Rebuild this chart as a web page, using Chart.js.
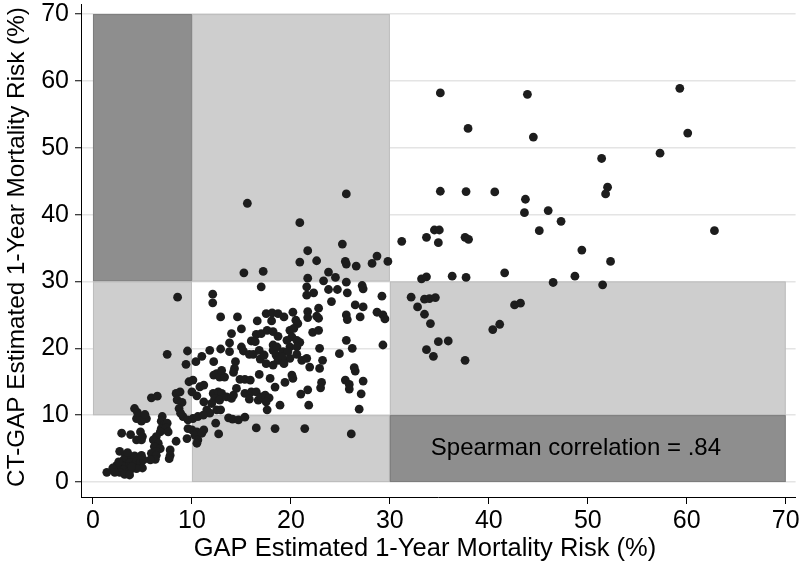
<!DOCTYPE html>
<html lang="en">
<head>
<meta charset="UTF-8">
<title>GAP vs CT-GAP Mortality Risk</title>
<script src="https://cdn.jsdelivr.net/npm/chart.js"></script>
<style>
  html, body { margin: 0; padding: 0; background: #fff; }
  .chart-box { width: 800px; height: 568px; }
</style>
</head>
<body>
<div class="chart-box"><canvas id="riskChart" width="800" height="568"></canvas></div>
<script>
// tick labels on both axes (%)
const tickValues = [0, 10, 20, 30, 40, 50, 60, 70];

const xTitle = 'GAP Estimated 1-Year Mortality Risk (%)';
const yTitle = 'CT-GAP Estimated 1-Year Mortality Risk (%)';

// [GAP risk, CT-GAP risk] per patient
const patients = [
  // GAP < 10, CT-GAP < 10
  [9.1,9.8],[4.7,9.8],[5.4,9.5],[4.9,9.1],[4.4,9.5],[7.0,9.8],[6.9,9.1],[7.2,8.6],[7.5,8.8],[6.9,8.0],
  [7.4,8.1],[6.8,7.5],[7.6,7.5],[6.4,6.8],[6.1,6.3],[6.6,5.8],[6.2,5.3],[6.8,5.0],[6.4,4.6],[5.9,4.3],
  [6.4,4.0],[6.3,3.4],[5.8,3.3],[7.8,4.8],[7.8,4.0],[7.7,3.5],[8.4,6.1],[2.9,7.3],[3.8,7.1],[4.4,6.3],
  [4.8,7.5],[4.9,6.3],[2.7,4.6],[3.3,4.0],[3.7,3.6],[4.2,3.9],[3.1,3.3],[3.7,2.9],[4.4,3.1],[4.1,2.5],
  [4.8,2.9],[5.0,2.1],[3.4,2.3],[2.9,2.5],[2.4,2.5],[2.0,2.1],[3.1,1.8],[3.7,1.6],[2.7,1.45],[3.2,1.15],
  [2.2,1.45],[1.4,1.45],[3.7,1.05],[4.4,2.0],[3.9,2.3],[5.1,3.3],[4.9,4.0],[9.6,9.3],[9.6,8.0],[9.5,6.5],
  [5.0,6.8],[3.5,4.4],[2.6,3.0],
  // GAP < 10, CT-GAP 10-30
  [8.55,27.65],[7.5,19.1],[9.55,19.6],[9.4,17.6],[9.7,15.0],[5.9,12.6],[6.5,12.85],[8.4,13.25],[8.8,13.5],
  [8.5,12.3],[9.0,11.9],[8.7,11.0],[8.85,10.3],[4.2,11.0],[4.5,10.4],[5.25,10.1],
  // GAP 10-30, CT-GAP 10-30
  [21.6,29.2],[22.3,28.3],[21.6,27.95],[23.8,28.8],[24.7,28.8],[25.7,28.3],[27.2,29.4],[27.3,28.9],[24.1,27.0],
  [26.5,26.5],[27.3,26.2],[29.2,27.8],[20.2,25.4],[21.7,25.5],[22.8,26.0],[22.6,24.8],[21.7,24.6],[20.5,24.2],
  [20.7,23.7],[22.8,24.5],[25.6,25.0],[25.7,24.3],[27.0,24.7],[28.7,25.4],[29.3,25.0],[29.5,24.4],[19.9,22.7],
  [20.3,23.0],[20.1,21.7],[20.6,21.2],[20.9,20.9],[22.2,22.4],[22.8,22.7],[19.9,20.2],[20.6,20.2],[20.6,19.1],
  [21.1,18.2],[21.6,18.5],[21.9,17.2],[19.9,18.5],[22.9,20.0],[23.2,18.2],[22.9,17.0],[24.9,19.2],[25.6,21.2],
  [26.2,20.0],[26.4,17.1],[26.5,16.6],[29.3,20.5],[20.1,16.0],[20.2,15.5],[23.1,14.9],[23.0,14.1],[25.5,15.25],
  [25.9,14.6],[25.9,13.9],[27.3,15.1],[27.1,13.2],[26.9,10.9],[21.7,13.8],[21.0,13.15],[21.8,11.5],
  [17.0,29.2],[12.1,28.1],[12.1,26.8],[12.9,24.7],[14.6,24.7],[17.5,25.2],[18.1,25.3],[18.7,25.2],[19.3,24.7],
  [18.05,24.1],[16.6,24.1],[14.0,22.2],[15.0,22.9],[16.5,22.1],[17.0,22.2],[17.6,22.7],[18.2,22.5],[18.7,21.8],
  [19.6,21.2],[16.0,21.1],[16.4,21.0],[13.8,20.8],[12.9,19.9],[13.8,19.5],[15.0,20.2],[15.2,19.6],[15.8,19.1],
  [16.2,19.1],[16.8,19.7],[16.9,18.4],[18.2,20.5],[18.2,19.7],[18.6,20.2],[18.5,19.0],[18.9,18.8],[19.2,19.5],
  [18.7,18.2],[19.2,18.0],[19.7,19.5],[11.8,19.7],[11.0,18.8],[10.4,18.0],[12.2,18.0],[14.4,18.0],[14.3,17.0],
  [14.2,16.4],[17.5,17.7],[18.2,17.5],[12.2,16.0],[12.5,16.2],[12.8,15.7],[13.3,15.7],[13.0,16.7],[14.85,15.35],
  [15.35,15.35],[15.9,15.25],[16.8,16.1],[17.9,15.5],[10.1,15.25],[19.4,14.9],[18.4,14.2],[19.1,18.7],
  [10.8,14.25],[11.2,14.5],[12.15,13.25],[12.66,13.5],[13.0,13.25],[12.3,12.5],[12.8,12.25],[12.0,11.75],
  [12.5,10.8],[12.9,10.8],[13.5,12.75],[14.0,12.5],[14.2,13.0],[14.5,14.0],[15.35,13.25],[16.0,13.5],
  [16.5,13.5],[16.7,12.25],[17.0,12.75],[17.4,13.0],[17.8,12.6],[17.5,12.0],[18.9,11.5],[17.6,10.8],
  [10.5,12.9],[10.0,13.5],[11.2,12.0],[11.5,10.8],[11.8,10.3],[15.8,12.4],[19.3,17.7],[17.3,19.0],
  // GAP 10-30, CT-GAP < 10
  [10.1,9.5],[10.6,9.8],[11.15,10.0],[10.0,7.8],[10.5,7.5],[11.2,7.8],[10.3,7.0],[10.6,6.3],[10.5,5.8],
  [11.0,7.3],[12.4,8.8],[12.7,7.2],[13.7,9.6],[14.1,9.4],[14.7,9.3],[15.35,9.7],[16.5,8.1],[18.4,8.0],
  [21.4,8.0],[26.1,7.2],
  // GAP 10-30, CT-GAP > 30
  [15.6,41.7],[25.6,43.1],[20.9,38.8],[25.2,35.6],[21.7,34.6],[20.9,32.9],[22.6,33.1],[25.5,33.0],[25.6,32.6],
  [26.6,32.3],[28.7,33.8],[28.2,32.7],[29.8,33.0],[15.25,31.3],[17.2,31.5],[23.8,31.4],[21.7,30.5],[24.5,30.6],
  [23.3,30.1],[25.6,29.9],
  // GAP > 30
  [35.1,58.2],[43.9,58.0],[59.3,58.9],[37.9,52.9],[44.5,51.6],[60.1,52.2],[51.4,48.4],[57.3,49.2],[35.1,43.5],
  [37.7,43.45],[40.6,43.4],[43.7,42.3],[43.6,40.3],[46.0,40.6],[47.3,39.0],[52.0,44.1],[51.8,43.1],[45.1,37.6],
  [62.8,37.6],[34.5,37.7],[35.0,37.7],[33.7,36.6],[34.9,35.8],[37.6,36.6],[37.95,36.3],[31.2,36.0],[49.4,34.7],
  [52.3,33.0],[41.6,31.3],[33.2,30.4],[33.7,30.7],[36.3,30.8],[37.7,30.6],[46.5,29.85],[48.7,30.8],[51.5,29.5],
  [32.15,27.65],[33.5,27.35],[34.0,27.45],[34.6,27.6],[32.8,26.2],[33.5,25.1],[34.1,23.7],[42.6,26.5],
  [43.2,26.75],[40.4,22.8],[41.1,23.6],[33.7,19.8],[34.4,18.8],[34.9,21.0],[35.9,21.1],[37.6,18.2]
];

// risk-category blocks: GAP range x CT-GAP range
const zones = [
  { x0: 0,  x1: 10, y0: 30, y1: 70, shade: 'dark' },
  { x0: 10, x1: 30, y0: 30, y1: 70, shade: 'light' },
  { x0: 0,  x1: 10, y0: 10, y1: 30, shade: 'light' },
  { x0: 30, x1: 70, y0: 10, y1: 30, shade: 'light' },
  { x0: 10, x1: 30, y0: 0,  y1: 10, shade: 'light' },
  { x0: 30, x1: 70, y0: 0,  y1: 10, shade: 'dark' }
];

const note = { text: 'Spearman correlation = .84', x: 48.8, y: 5 };

const shades = {
  dark:  { fill: '#8e8e8e', line: '#7d7d7d' },
  light: { fill: '#cecece', line: '#bdbdbd' }
};

const fontFamily = '"Liberation Sans", Arial, sans-serif';

// shaded blocks go over the grid and under the dots
const zonePlugin = {
  id: 'zones',
  beforeDatasetsDraw(chart) {
    const { ctx, chartArea, scales: { x, y } } = chart;
    ctx.save();
    ctx.beginPath();
    ctx.rect(chartArea.left, chartArea.top, chartArea.right - chartArea.left, chartArea.bottom - chartArea.top);
    ctx.clip();
    zones.forEach(z => {
      const left = x.getPixelForValue(z.x0);
      const right = x.getPixelForValue(z.x1);
      const top = y.getPixelForValue(z.y1);
      const bottom = y.getPixelForValue(z.y0);
      ctx.fillStyle = shades[z.shade].fill;
      ctx.fillRect(left, top, right - left, bottom - top);
      ctx.strokeStyle = shades[z.shade].line;
      ctx.lineWidth = 1;
      ctx.strokeRect(left + 0.5, top + 0.5, right - left - 1, bottom - top - 1);
    });
    ctx.fillStyle = '#000';
    ctx.font = '24px ' + fontFamily;
    ctx.textAlign = 'center';
    ctx.textBaseline = 'middle';
    ctx.fillText(note.text, x.getPixelForValue(note.x), y.getPixelForValue(note.y));
    ctx.restore();
  },
  // axis titles, placed where the original has them
  afterDraw(chart) {
    const { ctx } = chart;
    ctx.save();
    ctx.fillStyle = '#000';
    ctx.textAlign = 'center';
    ctx.textBaseline = 'middle';
    ctx.font = '25.5px ' + fontFamily;
    ctx.fillText(xTitle, 425, 549);
    ctx.translate(17, 247);
    ctx.rotate(-Math.PI / 2);
    ctx.font = '24.3px ' + fontFamily;
    ctx.fillText(yTitle, 0, 0);
    ctx.restore();
  }
};

Chart.defaults.font.family = fontFamily;
Chart.defaults.color = '#000';

const setTicks = scale => { scale.ticks = tickValues.map(v => ({ value: v })); };
const noEdgePadding = s => {
  s.paddingTop = 0; s.paddingBottom = 0; s.paddingLeft = 0; s.paddingRight = 0;
};

new Chart(document.getElementById('riskChart').getContext('2d'), {
  type: 'scatter',
  data: {
    datasets: [{
      data: patients.map(p => ({ x: p[0], y: p[1] })),
      pointRadius: 4.4,
      pointHoverRadius: 4.4,
      pointBackgroundColor: '#1d1d1d',
      pointBorderWidth: 0
    }]
  },
  options: {
    responsive: false,
    animation: false,
    layout: { padding: { top: 4, right: 4, left: 0, bottom: 0 } },
    plugins: {
      legend: { display: false },
      tooltip: { enabled: false }
    },
    scales: {
      x: {
        type: 'linear',
        min: -1.21,
        max: 71.0,
        afterBuildTicks: setTicks,
        afterFit: s => { s.height = 71; noEdgePadding(s); },
        ticks: { font: { size: 25 }, color: '#000', padding: 2, maxRotation: 0, autoSkip: false },
        grid: { drawOnChartArea: false, tickLength: 7, tickColor: '#000', tickWidth: 1 },
        border: { color: '#000', width: 1 }
      },
      y: {
        type: 'linear',
        min: -2.24,
        max: 71.45,
        afterBuildTicks: setTicks,
        afterFit: s => { s.width = 81; noEdgePadding(s); },
        ticks: { font: { size: 25 }, color: '#000', padding: 6, autoSkip: false },
        grid: { color: '#e4e4e4', lineWidth: 1.5, tickLength: 6, tickColor: '#000', tickWidth: 1 },
        border: { color: '#000', width: 1 }
      }
    }
  },
  plugins: [zonePlugin]
});
</script>
</body>
</html>
